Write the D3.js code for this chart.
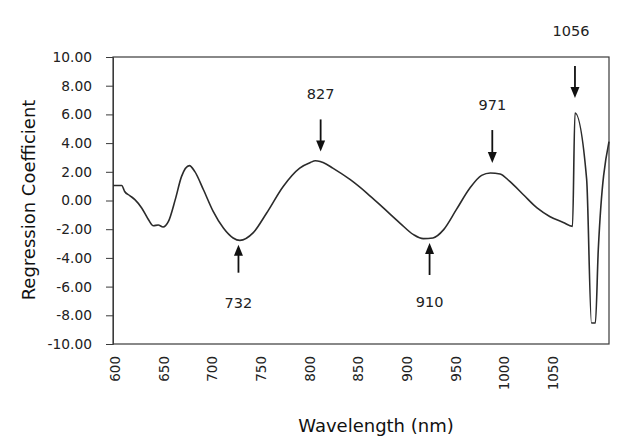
<!DOCTYPE html>
<html>
<head>
<meta charset="utf-8">
<script src="https://cdn.jsdelivr.net/npm/d3@7"></script>
<style>
  html, body { margin: 0; padding: 0; background: #ffffff; }
  svg { display: block; font-family: "DejaVu Sans", Verdana, sans-serif; }
</style>
</head>
<body>
<svg id="chart" width="617" height="445"></svg>
<script>
// PLS regression coefficients across the NIR range
const wavelength = [598, 607, 610, 615.5, 620.5, 627.5, 634.5, 639.5, 644.5, 649.5, 655, 662, 668.5,
  676.5, 682, 691, 701, 711.5, 721.5, 728.5, 742, 756, 773, 790, 801, 806, 811, 814, 824, 842, 859,
  876, 893, 907, 917, 927, 938, 951, 965, 977, 986, 996, 1006, 1020, 1034, 1047, 1061, 1070.5, 1073,
  1085, 1090, 1094, 1097, 1108];
const coefficient = [1.05, 1.05, 0.63, 0.33, 0.06, -0.52, -1.34, -1.76, -1.71, -1.85, -1.46, 0.06,
  1.68, 2.43, 2.03, 0.75, -0.76, -1.92, -2.61, -2.78, -2.26, -0.87, 0.98, 2.26, 2.65, 2.77, 2.72,
  2.65, 2.26, 1.45, 0.52, -0.52, -1.57, -2.38, -2.66, -2.61, -2.03, -0.64, 0.87, 1.75, 1.92, 1.85,
  1.33, 0.40, -0.52, -1.11, -1.53, -1.80, 6.10, 1.50, -8.54, -8.54, -3.40, 4.10];

const xTicks = [600, 650, 700, 750, 800, 850, 900, 950, 1000, 1050];
const yTicks = [-10, -8, -6, -4, -2, 0, 2, 4, 6, 8, 10];

// Important wavelengths marked with arrows
const bandLabels = ["732", "827", "910", "971", "1056"];
const bandPosition = [727, 811.5, 923.5, 988, 1073];
const bandTip = [-3.08, 3.42, -2.96, 2.61, 7.14];
const bandDirection = ["up", "down", "up", "down", "down"];

// Layout for the arrow annotations (pixels)
const arrowLength = [28, 32, 32, 33, 32];
const labelGap = [35, 20, 32, 20, 30];

const margin = { left: 113, right: 8, top: 57, bottom: 101 };
const width = 617, height = 445;

const svg = d3.select("#chart");

const x = d3.scaleLinear().domain([598, 1108]).range([margin.left, width - margin.right]);
const y = d3.scaleLinear().domain([-10, 10]).range([height - margin.bottom, margin.top]);

// Frame
svg.append("rect")
  .attr("x", x.range()[0]).attr("y", y.range()[1])
  .attr("width", x.range()[1] - x.range()[0])
  .attr("height", y.range()[0] - y.range()[1])
  .attr("fill", "none").attr("stroke", "#3a3a3a").attr("stroke-width", 1.2);

// Y axis
const yAxis = svg.append("g")
  .attr("transform", `translate(${margin.left},0)`)
  .call(d3.axisLeft(y).tickValues(yTicks).tickFormat(d => d.toFixed(2)).tickSize(7).tickPadding(14));
yAxis.select(".domain").attr("stroke", "#3a3a3a");
yAxis.selectAll(".tick line").attr("stroke", "#3a3a3a");
yAxis.selectAll("text").attr("font-size", 13.8).attr("fill", "#222").attr("font-family", "DejaVu Sans");

// X axis with vertical labels
const xAxis = svg.append("g")
  .attr("transform", `translate(0,${height - margin.bottom})`)
  .call(d3.axisBottom(x).tickValues(xTicks).tickFormat(d3.format("d")).tickSize(0));
xAxis.select(".domain").remove();
xAxis.selectAll("text")
  .attr("font-size", 13.5).attr("fill", "#222").attr("font-family", "DejaVu Sans")
  .attr("transform", "rotate(-90)")
  .attr("x", -12).attr("y", 0).attr("dy", "0.35em")
  .style("text-anchor", "end");

// Axis titles
svg.append("text")
  .attr("transform", `translate(28,200) rotate(-90)`)
  .attr("text-anchor", "middle").attr("dominant-baseline", "central")
  .attr("font-size", 18).attr("fill", "#111")
  .text("Regression Coefficient");
svg.append("text")
  .attr("x", 376).attr("y", 425)
  .attr("text-anchor", "middle").attr("dominant-baseline", "central")
  .attr("font-size", 18).attr("fill", "#111")
  .text("Wavelength (nm)");

// Coefficient curve
const points = wavelength.map((w, i) => [w, coefficient[i]]);
const line = d3.line().x(d => x(d[0])).y(d => y(d[1])).curve(d3.curveMonotoneX);
svg.append("path")
  .datum(points)
  .attr("d", line)
  .attr("fill", "none").attr("stroke", "#2b2b2b").attr("stroke-width", 1.6)
  .attr("stroke-linejoin", "round");

// Arrows and wavelength labels
const head = 11, headHalf = 4.5;
bandLabels.forEach((lab, i) => {
  const ax = x(bandPosition[i]);
  const tip = y(bandTip[i]);
  const dir = bandDirection[i] === "down" ? 1 : -1; // +1: pointing down
  const tail = tip - dir * arrowLength[i];
  const g = svg.append("g");
  g.append("line")
    .attr("x1", ax).attr("x2", ax)
    .attr("y1", tail).attr("y2", tip - dir * (head - 1))
    .attr("stroke", "#111").attr("stroke-width", 1.8);
  g.append("path")
    .attr("d", `M${ax - headHalf},${tip - dir * head} L${ax + headHalf},${tip - dir * head} L${ax},${tip} Z`)
    .attr("fill", "#111");
  const ly = dir === 1 ? tail - labelGap[i] : tail + labelGap[i];
  g.append("text")
    .attr("x", ax - (i === 4 ? 4 : 0)).attr("y", ly)
    .attr("text-anchor", "middle")
    .attr("font-size", 14.5).attr("fill", "#222")
    .text(lab);
});
</script>
</body>
</html>
